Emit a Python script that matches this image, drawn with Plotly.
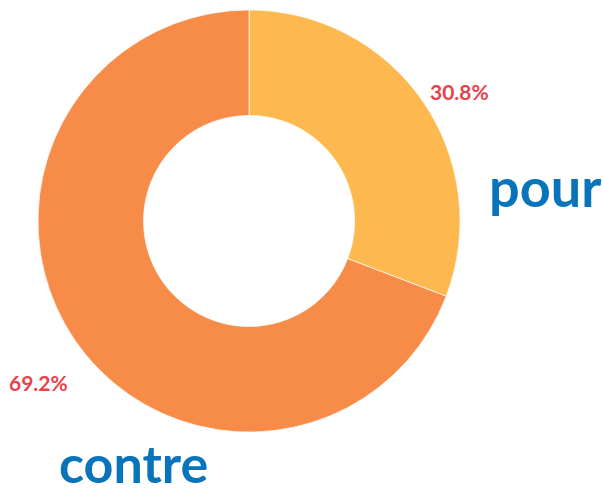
import plotly.graph_objects as go

labels = ["pour", "contre"]
values = [30.8, 69.2]
colors = ["#FDB94F", "#F68C48"]

total = sum(values)
pct_text = [f"{v / total * 100:.1f}%" for v in values]

fig = go.Figure()
fig.add_trace(go.Pie(
    labels=labels,
    values=values,
    hole=0.5,
    sort=False,
    direction="clockwise",
    rotation=0,
    marker=dict(colors=colors, line=dict(color="white", width=0.7)),
    textinfo="none",
    hoverinfo="label+percent",
    showlegend=False,
    domain=dict(x=[0.063, 0.763], y=[0.127, 0.980]),
))

red = "#E8434B"
blue = "#0A74BA"
# percent labels
fig.add_annotation(x=459 / 603, y=1 - 92 / 495, xref="paper", yref="paper",
                   text=pct_text[0], showarrow=False, xanchor="center", yanchor="middle",
                   font=dict(family="Lato", size=21, color=red, weight="bold"))
fig.add_annotation(x=38 / 603, y=1 - 382 / 495, xref="paper", yref="paper",
                   text=pct_text[1], showarrow=False, xanchor="center", yanchor="middle",
                   font=dict(family="Lato", size=21, color=red, weight="bold"))
# category labels
fig.add_annotation(x=545 / 603, y=1 - 186 / 495, xref="paper", yref="paper",
                   text=labels[0], showarrow=False, xanchor="center", yanchor="middle",
                   font=dict(family="Lato", size=54, color=blue, weight="bold"))
fig.add_annotation(x=133 / 603, y=1 - 463 / 495, xref="paper", yref="paper",
                   text=labels[1], showarrow=False, xanchor="center", yanchor="middle",
                   font=dict(family="Lato", size=52, color=blue, weight="bold"))

fig.update_layout(
    width=603, height=495,
    margin=dict(l=0, r=0, t=0, b=0),
    paper_bgcolor="white", plot_bgcolor="white",
)
fig.write_html("out.html", config={"displayModeBar": False},
               post_script="document.body.style.margin='0';")
